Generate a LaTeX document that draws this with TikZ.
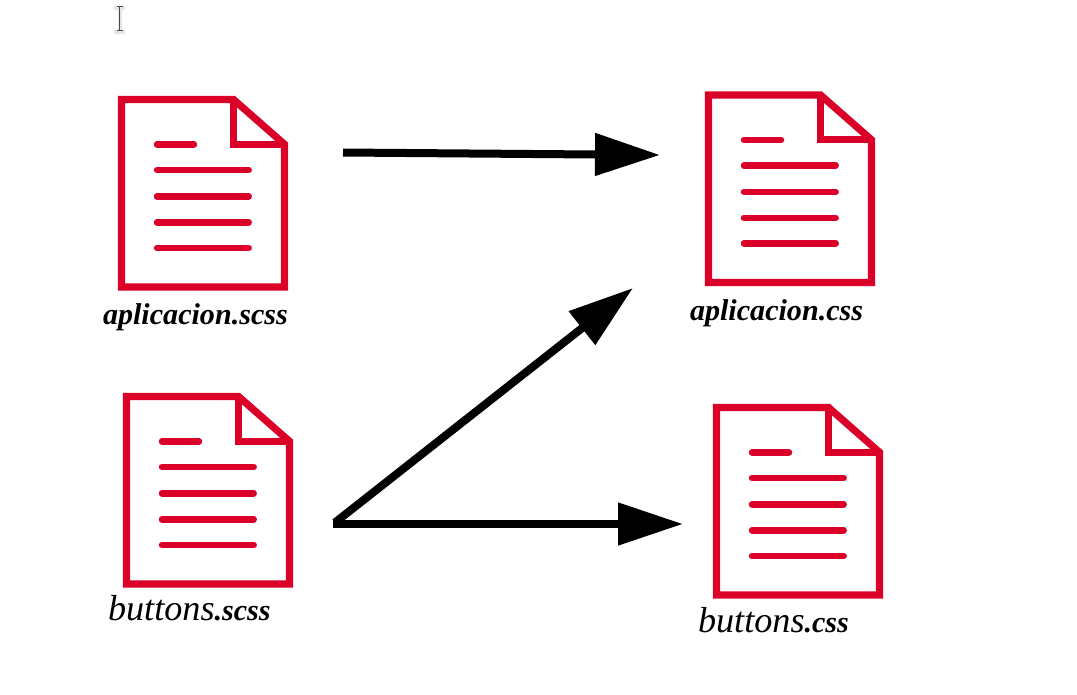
\documentclass[tikz,border=0pt]{standalone}
\usepackage{fontspec}
\setmainfont{Liberation Serif}
\usetikzlibrary{arrows.meta}
\definecolor{docred}{RGB}{218,0,40}
\tikzset{
  docline/.style={draw=docred,line width=6.5pt,line cap=round},
  docedge/.style={draw=docred,line width=7.2pt,line join=miter},
  flow/.style={draw=black,line width=8pt,-{Triangle[length=65pt,width=41pt]}},
  lbl/.style={anchor=base west,inner sep=0pt,outer sep=0pt},
  pics/docicon/.style={code={
    \path[docedge] (3.5,3.5) -- (115.5,3.5) -- (166.5,48.3) -- (166.5,191) -- (3.5,191) -- cycle;
    \path[docedge] (115.5,3.5) -- (115.5,48.3) -- (166.5,48.3);
    \path[docline] (39,48.3) -- (76,48.3);
    \foreach \yy in {74,100.3,126.3,152} {\path[docline] (39,\yy) -- (130.7,\yy);}
  }}
}
\newcommand{\bigit}[1]{{\fontsize{36.2}{36.2}\selectfont\itshape #1}}
\newcommand{\smallbi}[1]{{\fontsize{30.1}{30.1}\selectfont\bfseries\itshape #1}}
\begin{document}
\begin{tikzpicture}[x=1pt,y=-1pt]
\useasboundingbox (0,0) rectangle (1077,694);
% text cursor
\draw[black!10,line width=4pt,line cap=round] (115.5,7.5) -- (123.5,7.5) (119.5,7.5) -- (119.5,31.5) (115.5,31.5) -- (123.5,31.5);
\draw[black!70,line width=1.3pt] (116.5,6.5) -- (122.5,6.5) (119.5,6.5) -- (119.5,30.5) (116.5,30.5) -- (122.5,30.5);
% icons
\pic at (118,96) {docicon};
\pic at (123,393) {docicon};
\pic at (705,91.5) {docicon};
\pic at (713,404) {docicon};
% labels
\node[lbl] (as) at (103,324) {\smallbi{aplicacion.scss}};
\node[lbl] (ac) at (690,320) {\smallbi{aplicacion.css}};
\node[lbl] (bs) at (108,620) {\bigit{buttons}\smallbi{.scss}};
\node[lbl] (bc) at (698,632) {\bigit{buttons}\smallbi{.css}};
% connectors
\coordinate (a1s) at (343,152.5);
\coordinate (a1e) at (660,155);
\coordinate (a2s) at (335,522.5);
\coordinate (a2e) at (633,288);
\coordinate (a3s) at (333,524);
\coordinate (a3e) at (683,524);
\draw[flow] (a1s) -- (a1e);
\draw[flow] (a2s) -- (a2e);
\draw[flow] (a3s) -- (a3e);
\end{tikzpicture}
\end{document}
